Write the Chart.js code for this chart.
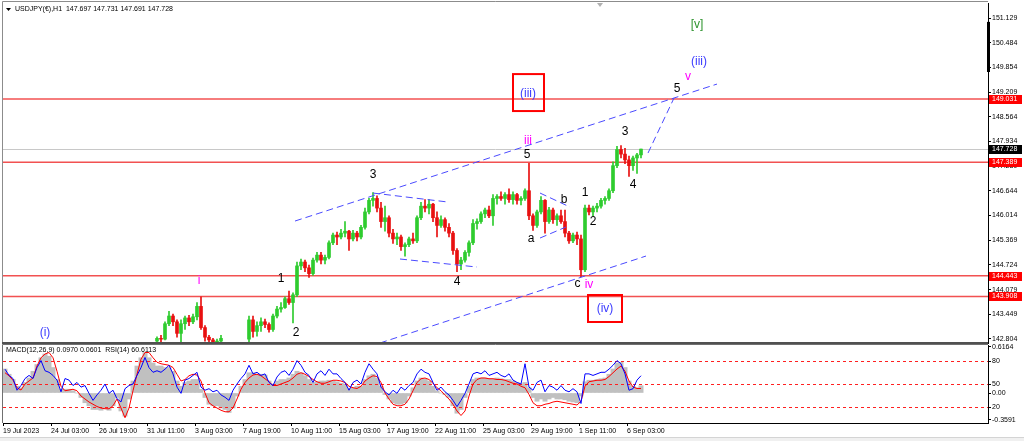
<!DOCTYPE html>
<html><head><meta charset="utf-8">
<script src="https://cdn.jsdelivr.net/npm/chart.js@4.4.1/dist/chart.umd.min.js"></script>
<style>
html,body{margin:0;padding:0;background:#fff;width:1024px;height:441px;overflow:hidden}
#main{position:absolute;left:0;top:0}
#sub{position:absolute;left:0;top:344px}
#strip{position:absolute;left:0;top:437px;width:1024px;height:4px;background:#f0f0f0;border-top:1px solid #d4d4d4}
</style></head><body>
<canvas id="main" width="1024" height="344"></canvas>
<canvas id="sub" width="1024" height="97"></canvas>
<div id="strip"></div>
<script>
// ---------------- DATA ----------------
const symbolTitle = 'USDJPY(€),H1  147.697 147.731 147.691 147.728';
const subTitle = 'MACD(12,26,9) 0.0970 0.0601  RSI(14) 60.6113';
const timeLabels = ['19 Jul 2023','24 Jul 03:00','26 Jul 19:00','31 Jul 11:00','3 Aug 03:00','7 Aug 19:00','10 Aug 11:00','15 Aug 03:00','17 Aug 19:00','22 Aug 11:00','25 Aug 03:00','29 Aug 19:00','1 Sep 11:00','6 Sep 03:00'];
const priceTicks = [151.129,150.484,149.854,149.209,148.564,147.934,147.289,146.644,146.014,145.369,144.724,144.079,143.449,142.804];
const levels = [149.031,147.389,144.443,143.908];
const lastPrice = 147.728;
const macdTicks = [0.6164, 0, -0.3591];
const macdTickLabels = ['0.6164','0.00','-0.3591'];
const rsiLevels = [80, 50, 20];

// candles: slots 38..159 (4-h-ish buckets), null = below visible range
const firstCandleSlot = 38;
const opens = [
142.75,142.82,142.80,143.20,143.40,143.25,142.95,143.20,143.35,143.25,
143.38,143.65,143.10,142.85,142.78,142.70,142.75,null,null,null,
null,null,null,142.80,143.30,143.00,143.15,143.25,143.18,143.05,
143.40,143.58,143.62,143.85,143.75,143.95,144.70,144.80,144.65,144.50,
144.85,144.98,144.85,144.92,145.30,145.50,145.45,145.55,145.60,145.40,
145.55,145.45,145.70,146.10,146.40,146.45,146.20,145.85,145.95,145.55,
145.40,145.45,145.20,145.25,145.40,145.35,145.95,146.25,146.20,146.30,
145.95,145.75,145.90,145.70,145.55,145.10,144.75,144.85,145.05,145.30,
145.80,145.85,146.05,146.15,146.00,146.45,146.50,146.45,146.55,146.42,
146.55,146.40,146.45,146.65,146.00,145.75,146.10,146.40,145.85,146.15,
145.90,146.00,145.85,145.55,145.35,145.50,145.40,144.60,146.20,146.10,
146.20,146.25,146.40,146.45,146.65,147.30,147.72,147.60,147.45,147.30,147.50,147.58];
const highs = [
142.86,142.90,143.25,143.52,143.45,143.30,143.30,143.40,143.42,143.45,
143.75,143.90,143.15,142.90,142.82,142.80,142.90,null,null,null,
null,null,null,143.40,143.40,143.25,143.35,143.32,143.22,143.45,
143.65,143.75,143.90,144.05,144.00,144.80,144.88,144.85,144.72,144.90,
145.05,145.05,144.98,145.35,145.55,145.58,145.65,145.85,145.62,145.62,
145.60,145.75,146.20,146.45,146.60,146.52,146.35,146.25,146.00,145.65,
145.55,145.50,145.30,145.45,145.55,146.00,146.35,146.42,146.42,146.32,
146.10,146.00,145.95,145.80,145.60,145.15,144.92,145.10,145.35,145.90,
145.92,146.10,146.20,146.25,146.55,146.55,146.62,146.60,146.70,146.62,
146.58,146.50,146.70,147.36,146.05,146.15,146.50,146.42,146.22,146.20,
146.05,146.15,146.15,145.60,145.55,145.58,145.50,146.28,146.28,146.25,
146.32,146.45,146.50,146.70,147.40,147.80,147.82,147.75,147.55,147.55,147.62,147.73];
const lows = [
142.70,142.72,142.78,143.15,143.15,142.85,142.72,143.05,143.15,143.20,
143.30,143.05,142.75,142.70,142.60,142.60,142.60,null,null,null,
null,null,null,142.70,142.85,142.88,143.00,143.10,142.98,143.00,
143.35,143.50,143.60,143.70,143.22,143.90,144.60,144.55,144.40,144.45,
144.80,144.75,144.75,144.88,145.25,145.25,145.40,145.45,145.10,145.35,
145.35,145.40,145.65,146.05,146.25,146.10,145.70,145.60,145.45,145.28,
145.25,145.10,144.95,145.20,145.28,145.30,145.90,146.10,146.05,145.85,
145.45,145.70,145.60,145.45,145.00,144.55,144.60,144.80,144.95,145.25,
145.65,145.80,145.95,145.95,145.75,146.30,146.40,146.30,146.35,146.30,
146.30,146.28,146.40,145.90,145.62,145.70,146.05,145.55,145.80,145.80,
145.75,145.80,145.45,145.28,145.30,145.25,144.42,144.55,146.02,146.00,
146.10,146.20,146.30,146.40,146.60,147.25,147.50,147.35,147.02,147.18,147.10,147.50];
const closes = [
142.82,142.80,143.20,143.40,143.25,142.95,143.20,143.35,143.25,143.38,
143.65,143.10,142.85,142.78,142.70,142.75,142.82,null,null,null,
null,null,null,143.30,143.00,143.15,143.25,143.18,143.05,143.40,
143.58,143.62,143.85,143.75,143.95,144.70,144.80,144.65,144.50,144.85,
144.98,144.85,144.92,145.30,145.50,145.45,145.55,145.60,145.40,145.55,
145.45,145.70,146.10,146.40,146.45,146.20,145.85,145.95,145.55,145.40,
145.45,145.20,145.25,145.40,145.35,145.95,146.25,146.20,146.30,145.95,
145.75,145.90,145.70,145.55,145.10,144.75,144.85,145.05,145.30,145.80,
145.85,146.05,146.15,146.00,146.45,146.50,146.45,146.55,146.42,146.55,
146.40,146.45,146.65,146.00,145.75,146.10,146.40,145.85,146.15,145.90,
146.00,145.85,145.55,145.35,145.50,145.40,144.60,146.20,146.10,146.20,
146.25,146.40,146.45,146.65,147.30,147.72,147.60,147.45,147.30,147.50,147.58,147.73];

// indicators: slots 0..159
const rsi = [
69,61,57,42,48,57,61,57,71,80, 67,65,61,55,40,57,55,48,52,46,
48,38,29,36,42,50,38,42,31,27, 44,48,50,61,71,84,71,65,67,65,
69,74,63,46,38,55,57,61,65,46, 42,44,40,42,36,33,29,42,50,57,
63,74,63,65,61,63,52,48,59,65, 67,61,69,80,74,65,61,52,63,67,
61,69,63,63,57,52,42,52,55,50, 65,76,69,63,46,40,36,42,38,46,
42,48,52,63,69,65,63,52,42,46, 40,36,29,21,29,38,50,63,65,63,
67,61,63,65,61,59,63,55,52,50, 76,46,42,52,55,40,48,46,42,48,
42,40,44,40,25,63,63,61,63,65, 65,69,74,80,76,63,42,44,55,60.61];
const macd = [
0.32,0.25,0.18,0.09,0.07,0.14,0.20,0.29,0.38,0.47, 0.52,0.49,0.34,0.18,0.05,0.05,0.05,0.03,0.00,-0.06,
-0.13,-0.17,-0.22,-0.22,-0.23,-0.21,-0.23,-0.17,-0.06,-0.24, -0.31,-0.08,0.16,0.36,0.47,0.54,0.47,0.40,0.36,0.36,
0.34,0.34,0.29,0.16,0.09,0.14,0.16,0.18,0.18,0.05, -0.06,-0.15,-0.17,-0.17,-0.20,-0.22,-0.26,-0.20,-0.04,0.09,
0.18,0.27,0.27,0.25,0.25,0.24,0.16,0.12,0.16,0.18, 0.18,0.20,0.25,0.29,0.27,0.23,0.18,0.14,0.15,0.16,
0.16,0.17,0.16,0.15,0.13,0.12,0.06,0.07,0.09,0.09, 0.18,0.23,0.25,0.20,0.09,-0.02,-0.08,-0.13,-0.15,-0.15,
-0.13,-0.04,0.07,0.16,0.20,0.19,0.16,0.09,0.03,0.00, -0.02,-0.06,-0.17,-0.27,-0.22,-0.06,0.09,0.18,0.20,0.20,
0.20,0.19,0.19,0.20,0.19,0.18,0.18,0.16,0.14,0.12, 0.14,0.07,-0.06,-0.11,-0.08,-0.11,-0.08,-0.06,-0.08,-0.08,
-0.09,-0.11,-0.12,-0.13,-0.04,0.15,0.17,0.17,0.18,0.19, 0.20,0.25,0.32,0.40,0.41,0.34,0.16,0.09,0.07,0.097];
const signal = [
0.27,0.23,0.17,0.07,0.04,0.12,0.16,0.20,0.36,0.47, 0.52,0.54,0.47,0.29,0.09,0.03,0.04,0.05,0.03,-0.04,
-0.08,-0.12,-0.15,-0.18,-0.20,-0.21,-0.21,-0.17,-0.08,-0.20, -0.33,-0.20,0.03,0.25,0.45,0.54,0.54,0.47,0.41,0.39,
0.38,0.37,0.34,0.25,0.16,0.18,0.23,0.25,0.24,0.16, 0.00,-0.13,-0.17,-0.20,-0.23,-0.25,-0.25,-0.20,-0.08,0.05,
0.14,0.20,0.24,0.25,0.23,0.19,0.15,0.10,0.10,0.12, 0.14,0.16,0.20,0.25,0.27,0.25,0.22,0.18,0.15,0.13,
0.13,0.15,0.17,0.17,0.16,0.14,0.09,0.07,0.06,0.09, 0.16,0.20,0.23,0.22,0.14,0.00,-0.08,-0.15,-0.17,-0.17,
-0.15,-0.08,0.03,0.14,0.19,0.20,0.18,0.13,0.07,0.03, -0.03,-0.08,-0.15,-0.24,-0.30,-0.24,-0.04,0.12,0.18,0.20,
0.20,0.19,0.19,0.18,0.18,0.17,0.15,0.13,0.12,0.09, 0.07,-0.02,-0.13,-0.17,-0.17,-0.15,-0.14,-0.12,-0.11,-0.12,
-0.13,-0.14,-0.15,-0.16,-0.11,0.09,0.15,0.16,0.17,0.17, 0.18,0.22,0.27,0.32,0.36,0.29,0.16,0.08,0.06,0.0601];

// annotations (slot, price)
const trendLines = [
  [[72.5,145.864],[178,149.417]],
  [[93.75,142.70],[160.25,144.956]],
  [[92,146.59],[110.75,146.357]],
  [[98.75,144.879],[118,144.671]],
  [[133.75,146.59],[141.25,146.227]],
  [[133.75,145.423],[140.25,145.709]],
  [[160.75,147.628],[167.25,149.054]]
];
const waveLabels = [
  ['(i)',10,142.96,'blue'], ['i',48.5,144.31,'mag'], ['1',69,144.36,'blk'], ['2',72.75,142.96,'blk'],
  ['3',92,147.06,'blk'], ['4',113,144.28,'blk'], ['iii',130.75,147.94,'mag'], ['5',130.5,147.58,'blk'],
  ['a',131.5,145.40,'blk'], ['b',139.75,146.41,'blk'], ['1',145,146.59,'blk'], ['2',147,145.84,'blk'],
  ['3',155,148.17,'blk'], ['4',157,146.80,'blk'], ['c',143.1,144.23,'blk'], ['iv',146.0,144.20,'mag'],
  ['(iv)',150,143.58,'blue'], ['(iii)',130.75,149.17,'blue'], ['5',168,149.29,'blk'], ['v',170.75,149.60,'mag'],
  ['(iii)',173.5,149.99,'blue'], ['[v]',173,150.97,'green']
];
const boxes = [[127,134.75,149.676,148.717],[145.75,154.25,143.945,143.245]];

// ---------------- STYLE / LAYOUT ----------------
const FONT = "'Liberation Sans', Arial, sans-serif";
Chart.defaults.font.family = FONT;
Chart.defaults.font.size = 7;
Chart.defaults.color = '#000';
const X_MIN = -0.5, X_MAX = 245.75;
const UP = '#2ecc2e', DOWN = '#e81010';
const labelColors = {blue:'#3c3cff', mag:'#ff00ff', blk:'#000000', green:'#2f942f'};

const wickData = [], bodyData = [], candleColors = [];
opens.forEach((o, k) => {
  if (o === null) return;
  const s = firstCandleSlot + k;
  wickData.push({x: s, y: [lows[k], highs[k]]});
  bodyData.push({x: s, y: [o, closes[k]]});
  candleColors.push(closes[k] >= o ? UP : DOWN);
});

function fixRightAxis(s){ s.width = 36; s.paddingTop = 0; s.paddingBottom = 0; }

const mainDecor = {
  id: 'mainDecor',
  beforeDatasetsDraw(chart) {
    const {ctx, chartArea: a, scales: {y}} = chart;
    ctx.save();
    ctx.beginPath(); ctx.rect(a.left, a.top, a.right - a.left, a.bottom - a.top); ctx.clip();
    const py = Math.round(y.getPixelForValue(lastPrice)) + 0.5;
    ctx.strokeStyle = '#c8c8c8'; ctx.lineWidth = 1;
    ctx.beginPath(); ctx.moveTo(a.left, py); ctx.lineTo(a.right, py); ctx.stroke();
    ctx.strokeStyle = 'rgba(240,50,50,0.85)'; ctx.lineWidth = 1.4;
    levels.forEach(v => {
      const yy = y.getPixelForValue(v);
      ctx.beginPath(); ctx.moveTo(a.left, yy); ctx.lineTo(a.right, yy); ctx.stroke();
    });
    ctx.restore();
  },
  afterDatasetsDraw(chart) {
    const {ctx, scales: {x, y}} = chart;
    ctx.save();
    ctx.strokeStyle = '#ff0000'; ctx.lineWidth = 2;
    boxes.forEach(b => {
      const x1 = x.getPixelForValue(b[0]), x2 = x.getPixelForValue(b[1]);
      const y1 = y.getPixelForValue(b[2]), y2 = y.getPixelForValue(b[3]);
      ctx.strokeRect(x1, y1, x2 - x1, y2 - y1);
    });
    ctx.font = '12px ' + FONT; ctx.textAlign = 'center'; ctx.textBaseline = 'middle';
    waveLabels.forEach(l => {
      ctx.fillStyle = labelColors[l[3]];
      ctx.fillText(l[0], x.getPixelForValue(l[1]), y.getPixelForValue(l[2]));
    });
    ctx.restore();
  },
  afterDraw(chart) {
    const {ctx, chartArea: a, scales: {x, y}} = chart;
    ctx.save();
    ctx.strokeStyle = '#8c8c8c'; ctx.lineWidth = 1;
    ctx.beginPath(); ctx.moveTo(2.5, a.bottom); ctx.lineTo(2.5, 1.5); ctx.lineTo(a.right, 1.5); ctx.stroke();
    ctx.fillStyle = '#505050'; ctx.fillRect(a.left - 1, a.bottom - 1, a.right - a.left + 1, 2);
    ctx.fillStyle = '#000';
    ctx.beginPath(); ctx.moveTo(6, 8); ctx.lineTo(11, 8); ctx.lineTo(8.5, 11); ctx.closePath(); ctx.fill();
    ctx.font = '7px ' + FONT; ctx.textBaseline = 'middle'; ctx.textAlign = 'left';
    ctx.fillText(symbolTitle, 15, 9.5);
    const sx = x.getPixelForValue(148.75);
    ctx.fillStyle = '#b0b0b0';
    ctx.beginPath(); ctx.moveTo(sx - 3, a.top); ctx.lineTo(sx + 3, a.top); ctx.lineTo(sx, a.top + 4); ctx.closePath(); ctx.fill();
    ctx.fillStyle = '#000';
    const b1 = y.getPixelForValue(151.03), b2 = y.getPixelForValue(149.73);
    ctx.fillRect(a.right - 1, b1, 3, b2 - b1);
    const tag = (v, bg) => {
      const yy = Math.round(y.getPixelForValue(v));
      ctx.fillStyle = bg; ctx.fillRect(a.right + 1, yy - 4, 33, 9);
      ctx.fillStyle = '#fff'; ctx.textAlign = 'left'; ctx.textBaseline = 'middle';
      ctx.fillText(v.toFixed(3), a.right + 4, yy + 0.5);
    };
    levels.forEach(v => tag(v, '#ff0000'));
    tag(lastPrice, '#000');
    ctx.restore();
  }
};

new Chart(document.getElementById('main'), {
  type: 'bar',
  data: { datasets: [
    ...trendLines.map(seg => ({ type: 'line', data: seg.map(p => ({x: p[0], y: p[1]})),
      borderColor: '#4a4aff', borderWidth: 1, borderDash: [7, 4], pointRadius: 0, order: 0 })),
    { type: 'bar', data: bodyData, backgroundColor: candleColors, barThickness: 3, grouped: false, order: 1, clip: 0 },
    { type: 'bar', data: wickData, backgroundColor: candleColors, barThickness: 1, grouped: false, order: 2, clip: 0 }
  ]},
  options: {
    responsive: false, animation: false,
    layout: { padding: { left: 3, top: 3, bottom: 1, right: 0 } },
    plugins: { legend: { display: false }, tooltip: { enabled: false } },
    scales: {
      x: { type: 'linear', min: X_MIN, max: X_MAX, offset: false, display: false },
      y: { type: 'linear', position: 'right', min: 142.70, max: 151.52,
        afterBuildTicks: s => { s.ticks = priceTicks.map(v => ({value: v})); },
        afterFit: fixRightAxis,
        ticks: { callback: v => v.toFixed(3), padding: 1, autoSkip: false, color: '#000', font: {size: 7} },
        grid: { drawOnChartArea: false, drawTicks: true, tickLength: 3, color: '#000' },
        border: { display: true, color: '#000', width: 1 } }
    }
  },
  plugins: [mainDecor]
});

const subDecor = {
  id: 'subDecor',
  afterDatasetDraw(chart, args) {
    if (args.meta.type !== 'bar') return;
    const {ctx, chartArea: a, scales: {yr}} = chart;
    ctx.save();
    ctx.strokeStyle = '#ff2020'; ctx.lineWidth = 1; ctx.setLineDash([3, 3]);
    rsiLevels.forEach(v => {
      const yy = Math.round(yr.getPixelForValue(v)) + 0.5;
      ctx.beginPath(); ctx.moveTo(a.left, yy); ctx.lineTo(a.right, yy); ctx.stroke();
    });
    ctx.restore();
  },
  afterDraw(chart) {
    const {ctx, chartArea: a, scales: {yr}} = chart;
    ctx.save();
    ctx.strokeStyle = '#707070'; ctx.lineWidth = 1;
    ctx.beginPath(); ctx.moveTo(2.5, a.bottom); ctx.lineTo(2.5, 0.5); ctx.lineTo(a.right, 0.5); ctx.stroke();
    ctx.font = '7px ' + FONT; ctx.fillStyle = '#000'; ctx.textAlign = 'left'; ctx.textBaseline = 'middle';
    ctx.fillText(subTitle, 6, 6.5);
    ctx.strokeStyle = '#000';
    rsiLevels.forEach(v => {
      const yy = Math.round(yr.getPixelForValue(v)) + 0.5;
      ctx.beginPath(); ctx.moveTo(a.right, yy); ctx.lineTo(a.right + 3, yy); ctx.stroke();
      ctx.fillText(String(v), a.right + 4, yy);
    });
    ctx.restore();
  }
};

const slotsAll = rsi.map((_, i) => i);
new Chart(document.getElementById('sub'), {
  type: 'bar',
  data: { datasets: [
    { type: 'line', data: slotsAll.map(i => ({x: i, y: rsi[i]})), yAxisID: 'yr', borderColor: '#0000ff', borderWidth: 1, pointRadius: 0, order: 0 },
    { type: 'line', data: slotsAll.map(i => ({x: i, y: signal[i]})), yAxisID: 'ym', borderColor: '#ff0000', borderWidth: 1, pointRadius: 0, order: 1 },
    { type: 'bar', data: slotsAll.map(i => ({x: i, y: macd[i]})), yAxisID: 'ym', backgroundColor: '#c0c0c0', barThickness: 4.3, grouped: false, order: 2, clip: 0 }
  ]},
  options: {
    responsive: false, animation: false,
    layout: { padding: { left: 3, top: 1, bottom: 0, right: 0 } },
    plugins: { legend: { display: false }, tooltip: { enabled: false } },
    scales: {
      x: { type: 'linear', min: X_MIN, max: X_MAX, offset: false, position: 'bottom',
        afterBuildTicks: s => { s.ticks = timeLabels.map((t, k) => ({value: k * 12 - 0.5})); },
        afterFit: s => { s.height = 18; s.paddingLeft = 0; s.paddingRight = 0; },
        ticks: { callback: (v, i) => timeLabels[i], align: 'start', maxRotation: 0, autoSkip: false, padding: 1, color: '#000', font: {size: 7} },
        grid: { drawOnChartArea: false, drawTicks: true, tickLength: 3, color: '#000', offset: false },
        border: { display: true, color: '#000' } },
      ym: { type: 'linear', position: 'right', min: -0.40, max: 0.64,
        afterBuildTicks: s => { s.ticks = macdTicks.map(v => ({value: v})); },
        afterFit: fixRightAxis,
        ticks: { callback: (v, i) => macdTickLabels[i], padding: 1, autoSkip: false, color: '#000', font: {size: 7} },
        grid: { drawOnChartArea: false, drawTicks: true, tickLength: 3, color: '#000' },
        border: { display: true, color: '#000' } },
      yr: { type: 'linear', display: false, min: 0, max: 100 }
    }
  },
  plugins: [subDecor]
});
</script>
</body></html>
